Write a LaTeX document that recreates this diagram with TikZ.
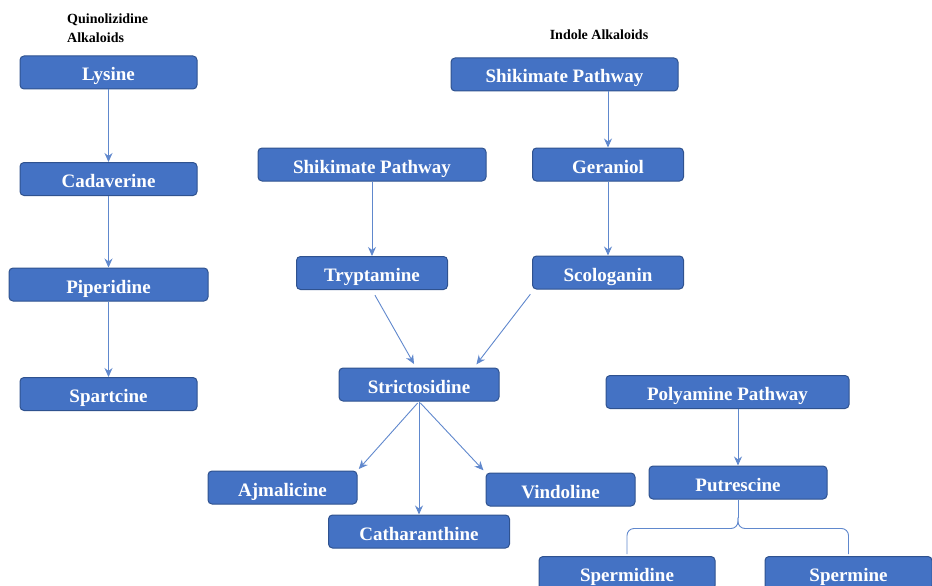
\documentclass[tikz,border=0pt]{standalone}
\usepackage{fontspec}
\setmainfont{Liberation Serif}
\usetikzlibrary{arrows.meta}

\definecolor{boxfill}{RGB}{68,114,196}
\definecolor{boxline}{RGB}{47,82,143}
\definecolor{linkcol}{RGB}{96,136,205}

\begin{document}
\begin{tikzpicture}[x=1pt, y=-1pt, >={Stealth[length=9pt, width=8pt]},
	every node/.style={inner sep=0pt},
	box/.style={draw=boxline, fill=boxfill, line width=1pt, rounded corners=4pt, minimum height=33pt, text height=17pt, text depth=0pt, text=white, font=\bfseries\fontsize{19}{20}\selectfont},
	title/.style={font=\bfseries\fontsize{14}{19}\selectfont, align=left},
	link/.style={draw=linkcol, line width=0.9pt},
	arr/.style={link, ->}]

				\useasboundingbox (0,0) rectangle (932,586);

				\node [title, anchor=north west] (QA) at (67,14) {Quinolizidine\\Alkaloids};
				\node [title] (IA) at (599,35) {Indole Alkaloids};

				\node [box, minimum width=177pt] (Lys) at (108.5,72.5) {Lysine};
				\node [box, minimum width=177pt] (Cad) at (108.5,179) {Cadaverine};
				\node [box, minimum width=199pt] (Pip) at (108.5,284.5) {Piperidine};
				\node [box, minimum width=177pt] (Spa) at (108.5,394) {Spartcine};

				\node [box, minimum width=227pt] (ShikT) at (564.5,74.5) {Shikimate Pathway};
				\node [box, minimum width=151pt] (Ger) at (608,164.5) {Geraniol};
				\node [box, minimum width=151pt] (Sco) at (608,272.5) {Scologanin};
				\node [box, minimum width=228pt] (ShikL) at (372,164.5) {Shikimate Pathway};
				\node [box, minimum width=151pt] (Try) at (372,273) {Tryptamine};
				\node [box, minimum width=160pt] (Str) at (419,384.5) {Strictosidine};
				\node [box, minimum width=149pt] (Ajm) at (282.5,487.5) {Ajmalicine};
				\node [box, minimum width=181pt] (Cat) at (419,531.5) {Catharanthine};
				\node [box, minimum width=149pt] (Vin) at (560.5,489.5) {Vindoline};

				\node [box, minimum width=243pt] (Poly) at (727.5,392) {Polyamine Pathway};
				\node [box, minimum width=178pt] (Put) at (738,482.5) {Putrescine};
				\node [box, minimum width=176pt] (Spd) at (627,573) {Spermidine};
				\node [box, minimum width=167pt] (Spm) at (848.5,573) {Spermine};

				\draw [arr] (Lys) -- (Cad);
				\draw [arr] (Cad) -- (Pip);
				\draw [arr] (Pip) -- (Spa);

				\draw [arr] (Ger.north |- ShikT.south) -- (Ger.north);
				\draw [arr] (Ger) -- (Sco);
				\draw [arr] (ShikL) -- (Try);
				\draw [arr, shorten <=6pt, shorten >=4pt] (Try.south) -- ([xshift=-3pt]Str.north);
				\draw [arr, shorten <=6pt, shorten >=4pt] ([xshift=2pt]Sco.south west) -- ([xshift=55pt]Str.north);

				\draw [arr, shorten <=2pt, shorten >=2pt] (Str.south) -- (Ajm.north east);
				\draw [arr] (Str) -- (Cat);
				\draw [arr, shorten <=2pt, shorten >=3pt] (Str.south) -- (Vin.north west);

				\draw [arr] (Put.north |- Poly.south) -- (Put.north);

				\coordinate (fork) at ([yshift=-18pt]Put.south);
				\coordinate (bar) at ([yshift=-11pt]fork);
				\draw [link] (Put.south) -- (fork);
				\draw [link, rounded corners=7pt] (fork) |- (bar -| Spd.north) -- ([yshift=2pt]Spd.north);
				\draw [link, rounded corners=7pt] (fork) |- (bar -| Spm.north) -- ([yshift=2pt]Spm.north);

			\end{tikzpicture}
\end{document}
